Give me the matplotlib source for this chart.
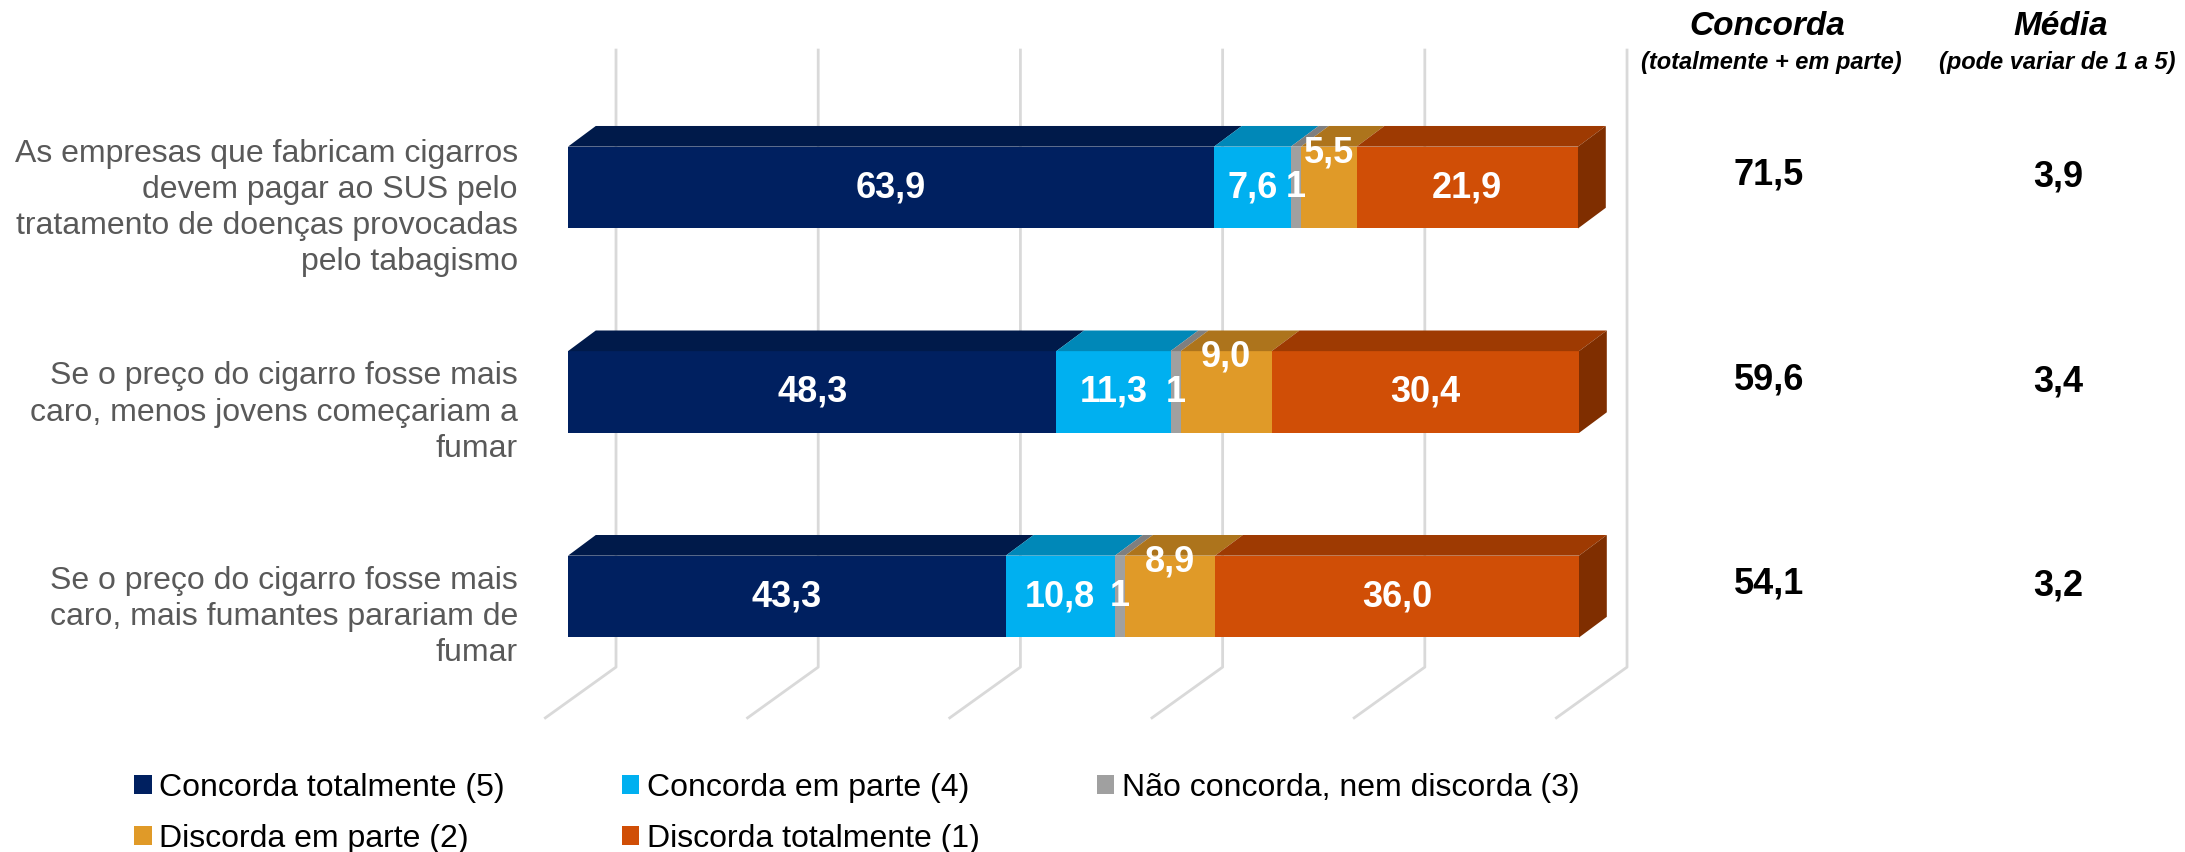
#!/usr/bin/env python3
"""Pseudo-3D stacked bars: opinion on cigarette pricing / SUS statements."""

import matplotlib.pyplot as plt
from matplotlib.patches import Patch, Polygon

plt.rcParams["font.family"] = ["Liberation Sans", "DejaVu Sans"]

statements = [
    "As empresas que fabricam cigarros\ndevem pagar ao SUS pelo\ntratamento de doenças provocadas\npelo tabagismo",
    "Se o preço do cigarro fosse mais\ncaro, menos jovens começariam a\nfumar",
    "Se o preço do cigarro fosse mais\ncaro, mais fumantes parariam de\nfumar",
]
answer_labels = [
    "Concorda totalmente (5)",
    "Concorda em parte (4)",
    "Não concorda, nem discorda (3)",
    "Discorda em parte (2)",
    "Discorda totalmente (1)",
]
concorda_totalmente = [63.9, 48.3, 43.3]
concorda_em_parte = [7.6, 11.3, 10.8]
nem_nem = [1, 1, 1]
discorda_em_parte = [5.5, 9.0, 8.9]
discorda_totalmente = [21.9, 30.4, 36.0]
concorda_soma = [71.5, 59.6, 54.1]
media = [3.9, 3.4, 3.2]
grid_ticks = [0, 20, 40, 60, 80, 100]

series = [concorda_totalmente, concorda_em_parte, nem_nem, discorda_em_parte, discorda_totalmente]
front_colors = ["#002060", "#00B0F0", "#A0A0A0", "#E09A28", "#D04E06"]
top_colors = ["#001A4A", "#0088B8", "#7F7F7F", "#AD741C", "#9E3A02"]
side_color = "#7F2E00"

# projection of the depth axis (in percent / category units)
bar_h = 0.4
bar_dx, bar_dy = 2.75, 0.101
wall_dx, floor_dx = 4.75, -2.35
wall_top, wall_bottom, floor_front = -0.679, 2.345, 2.597

fig = plt.figure(figsize=(21.85, 8.52), dpi=100)
ax = fig.add_axes([0, 0, 1, 1])
ax.set_xlim(-56.18, 159.94)
ax.set_ylim(3.249, -0.917)
ax.axis("off")

grid_kw = dict(color="#D9D9D9", lw=2, zorder=0, solid_capstyle="butt")
for t in grid_ticks:
    ax.plot([t + wall_dx, t + wall_dx, t + floor_dx], [wall_top, wall_bottom, floor_front], **grid_kw)

ypos = list(range(len(statements)))
left = [0.0] * len(ypos)
for k, vals in enumerate(series):
    ax.barh(ypos, vals, left=left, height=bar_h, color=front_colors[k], zorder=2)
    for i, y in enumerate(ypos):
        x0, x1 = left[i], left[i] + vals[i]
        top = y - bar_h / 2
        ax.add_patch(Polygon([(x0, top), (x1, top), (x1 + bar_dx, top - bar_dy), (x0 + bar_dx, top - bar_dy)],
                             closed=True, facecolor=top_colors[k], edgecolor="none", zorder=2))
        if k == len(series) - 1:
            bot = y + bar_h / 2
            ax.add_patch(Polygon([(x1, top), (x1 + bar_dx, top - bar_dy), (x1 + bar_dx, bot - bar_dy), (x1, bot)],
                                 closed=True, facecolor=side_color, edgecolor="none", zorder=2))
        txt = f"{vals[i]:.0f}" if k == 2 else f"{vals[i]:.1f}".replace(".", ",")
        ty = y - 0.17 if k == 3 else y
        ax.text((x0 + x1) / 2, ty, txt, ha="center", va="center", color="white",
                fontsize=26, fontweight="bold", zorder=4)
    left = [a + b for a, b in zip(left, vals)]

for i, y in enumerate(ypos):
    ax.text(-4.95, y + 0.1, statements[i], ha="right", va="center", color="#595959",
            fontsize=23, linespacing=1.27)
    ax.text(118.8, y - 0.06, f"{concorda_soma[i]:.1f}".replace(".", ","), ha="center", va="center",
            fontsize=26, fontweight="bold", color="black")
    ax.text(147.4, y - 0.05, f"{media[i]:.1f}".replace(".", ","), ha="center", va="center",
            fontsize=26, fontweight="bold", color="black")

ax.text(118.6, -0.785, "Concorda", ha="center", va="center", fontsize=24,
        fontweight="bold", fontstyle="italic")
ax.text(119.0, -0.609, "(totalmente + em parte)", ha="center", va="center", fontsize=17,
        fontweight="bold", fontstyle="italic")
ax.text(147.6, -0.785, "Média", ha="center", va="center", fontsize=24,
        fontweight="bold", fontstyle="italic")
ax.text(147.3, -0.609, "(pode variar de 1 a 5)", ha="center", va="center", fontsize=17,
        fontweight="bold", fontstyle="italic")

handles = [Patch(facecolor=c, edgecolor="none") for c in front_colors]
order = [0, 3, 1, 4, 2]
fig.legend([handles[j] for j in order], [answer_labels[j] for j in order],
           loc="upper left", bbox_to_anchor=(0.0613, 0.093), ncol=3, frameon=False,
           fontsize=23, handlelength=0.55, handleheight=0.55, handletextpad=0.25,
           columnspacing=3.65, labelspacing=0.66, borderpad=0, borderaxespad=0)

fig.savefig("out.png", dpi=100)
